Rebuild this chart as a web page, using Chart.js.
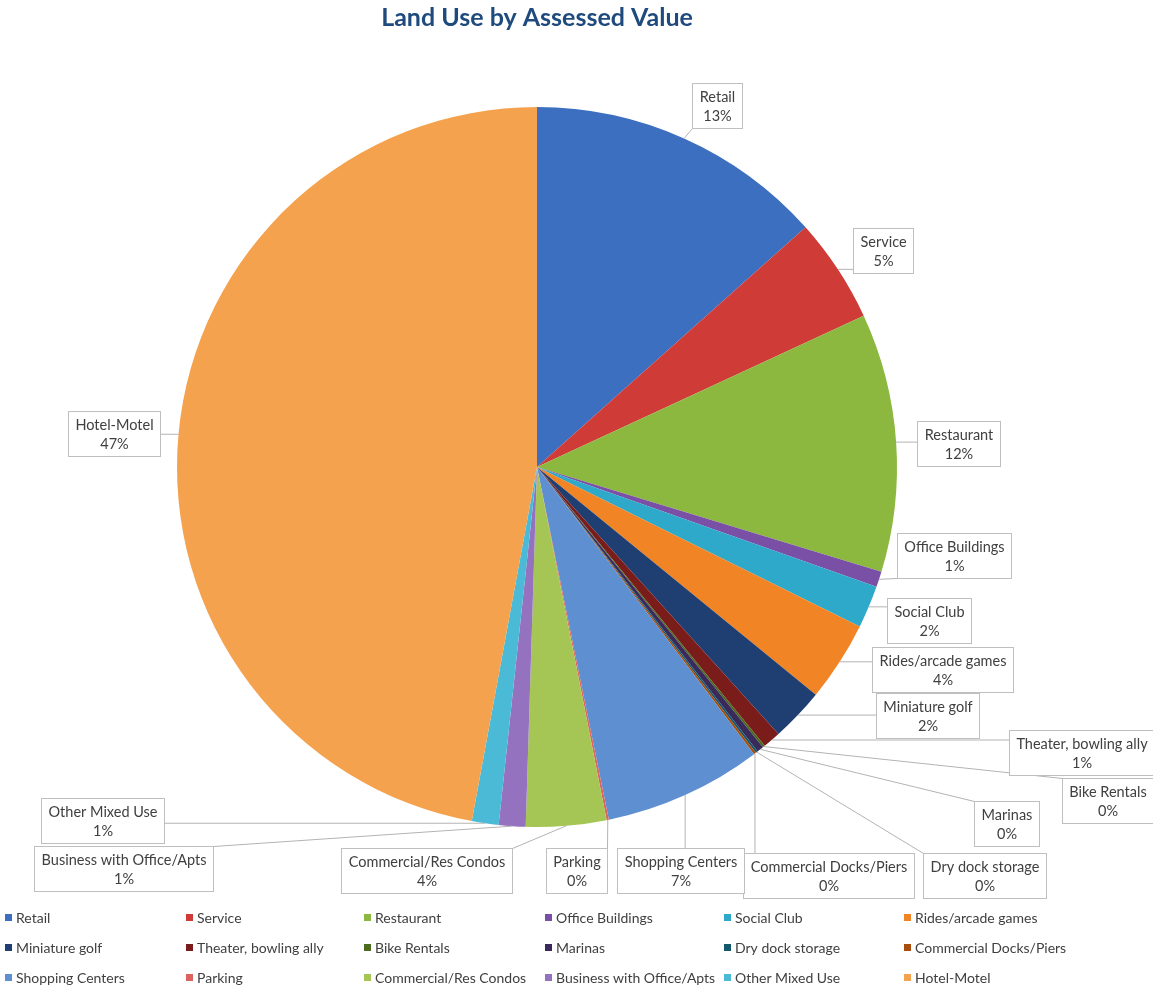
<!DOCTYPE html>
<html>
<head>
<meta charset="utf-8">
<title>Land Use by Assessed Value</title>
<script src="https://cdn.jsdelivr.net/npm/chart.js@4.4.1/dist/chart.umd.min.js"></script>
<style>
  html, body { margin: 0; padding: 0; background: #ffffff; }
  #wrap { width: 1153px; height: 994px; position: relative; }
</style>
</head>
<body>
<div id="wrap"><canvas id="chart" width="1153" height="994"></canvas></div>
<script>
// Land use categories, in slice order (clockwise from 12 o'clock)
const categories = [
  'Retail', 'Service', 'Restaurant', 'Office Buildings', 'Social Club', 'Rides/arcade games',
  'Miniature golf', 'Theater, bowling ally', 'Bike Rentals', 'Marinas', 'Dry dock storage', 'Commercial Docks/Piers',
  'Shopping Centers', 'Parking', 'Commercial/Res Condos', 'Business with Office/Apts', 'Other Mixed Use', 'Hotel-Motel'
];

// Share of total assessed value (percent)
const assessedShare = [
  13.4, 4.7, 11.6, 0.7, 1.9, 3.6,
  2.4, 0.8, 0.1, 0.3, 0.1, 0.1,
  7.1, 0.1, 3.6, 1.2, 1.2, 47.1
];

const sliceColors = [
  '#3d6fc1', '#cf3b36', '#8cb840', '#7a4fa6', '#2fa9c9', '#f18424',
  '#1f3f73', '#7a1c1a', '#4d6b1e', '#3a2a5c', '#14586b', '#a94c0c',
  '#5e8fd0', '#dc6460', '#a5c655', '#9572c0', '#4bbad6', '#f5a24f'
];

const titleText = 'Land Use by Assessed Value';

// Callout box centres, in px measured from the pie centre
const calloutOffsets = [
  [180, -362], [346, -217], [421, -24], [417, 88], [392, 153], [405, 202],
  [391, 248], [545, 285], [571, 333], [469, 356], [447, 408], [291, 408],
  [143, 403], [40, 403], [-111, 403], [-414, 401], [-435, 353], [-423, -34]
];

// Legend grid: six columns, three rows
const legendColumns = [5, 186, 364, 545, 724, 904];
const legendRowTop = 917;
const legendRowStep = 30;

const FONT = 'Lato, "Open Sans", "DejaVu Sans", sans-serif';

const total = assessedShare.reduce((a, b) => a + b, 0);
const pctText = v => Math.round(v / total * 100) + '%';

// Callout boxes with leader lines to each slice's outer edge
const calloutPlugin = {
  id: 'callouts',
  afterDatasetsDraw(chart) {
    const ctx = chart.ctx;
    const arcs = chart.getDatasetMeta(0).data;
    ctx.save();
    ctx.font = '14.5px ' + FONT;
    const lineH = 19;
    const boxes = arcs.map((arc, i) => {
      const lines = [categories[i], pctText(assessedShare[i])];
      const w = Math.max(...lines.map(t => ctx.measureText(t).width)) + 14;
      const h = 45;
      const cx = arc.x + calloutOffsets[i][0];
      const cy = arc.y + calloutOffsets[i][1];
      return { lines, x: Math.round(cx - w / 2) + 0.5, y: Math.round(cy - h / 2) + 0.5, w: Math.round(w), h };
    });

    // leader lines
    ctx.strokeStyle = '#b3b3b3';
    ctx.lineWidth = 1;
    arcs.forEach((arc, i) => {
      const mid = (arc.startAngle + arc.endAngle) / 2;
      const px = arc.x + Math.cos(mid) * arc.outerRadius;
      const py = arc.y + Math.sin(mid) * arc.outerRadius;
      const b = boxes[i];
      const qx = Math.min(Math.max(px, b.x), b.x + b.w);
      const qy = Math.min(Math.max(py, b.y), b.y + b.h);
      ctx.beginPath();
      ctx.moveTo(px, py);
      ctx.lineTo(qx, qy);
      ctx.stroke();
    });

    // boxes and text
    boxes.forEach(b => {
      ctx.fillStyle = '#ffffff';
      ctx.fillRect(b.x, b.y, b.w, b.h);
      ctx.strokeStyle = '#bfbfbf';
      ctx.strokeRect(b.x, b.y, b.w, b.h);
      ctx.fillStyle = '#404040';
      ctx.textAlign = 'center';
      ctx.textBaseline = 'middle';
      const cx = b.x + b.w / 2;
      const cy = b.y + b.h / 2;
      ctx.fillText(b.lines[0], cx, cy - lineH / 2 + 1);
      ctx.fillText(b.lines[1], cx, cy + lineH / 2 + 1);
    });
    ctx.restore();
  }
};

// Grid legend below the pie
const gridLegendPlugin = {
  id: 'gridLegend',
  afterDraw(chart) {
    const ctx = chart.ctx;
    ctx.save();
    ctx.font = '14px ' + FONT;
    ctx.textBaseline = 'middle';
    ctx.textAlign = 'left';
    categories.forEach((name, i) => {
      const col = i % 6;
      const row = Math.floor(i / 6);
      const x = legendColumns[col];
      const y = legendRowTop + row * legendRowStep;
      ctx.fillStyle = sliceColors[i];
      ctx.fillRect(x, y - 3, 7, 7);
      ctx.fillStyle = '#404040';
      ctx.fillText(name, x + 11, y + 1);
    });
    ctx.restore();
  }
};

new Chart(document.getElementById('chart'), {
  type: 'pie',
  data: {
    labels: categories,
    datasets: [{
      data: assessedShare,
      backgroundColor: sliceColors,
      borderWidth: 0
    }]
  },
  options: {
    responsive: false,
    animation: false,
    layout: { padding: { left: 100, right: 179, top: 0, bottom: 167 } },
    plugins: {
      legend: { display: false },
      tooltip: { enabled: false },
      title: {
        display: true,
        text: titleText,
        color: '#1f4a7d',
        font: { family: FONT, size: 25, weight: 'bold', lineHeight: 1.2 },
        padding: { top: 3, bottom: 74 }
      }
    }
  },
  plugins: [calloutPlugin, gridLegendPlugin]
});
</script>
</body>
</html>
